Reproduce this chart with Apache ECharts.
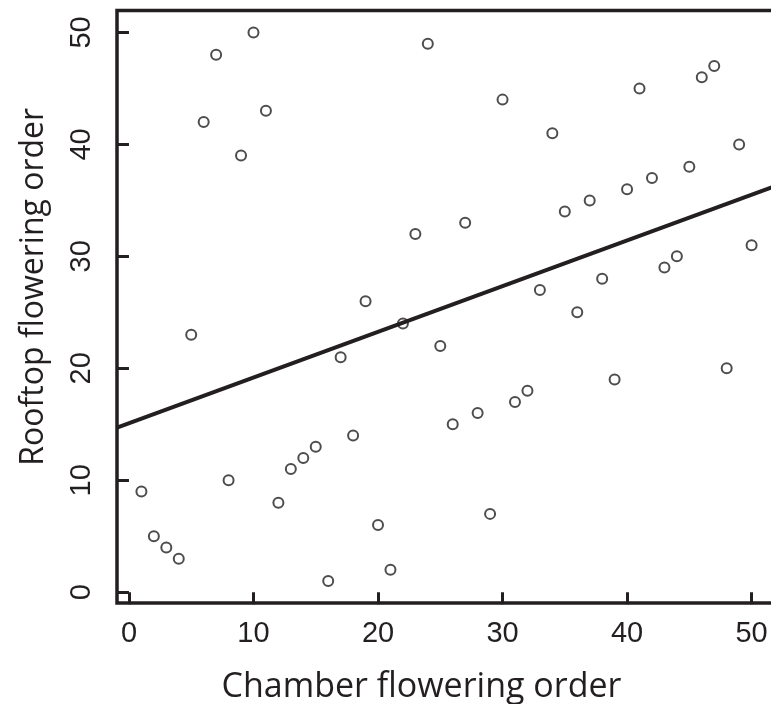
<!DOCTYPE html>
<html>
<head>
<meta charset="utf-8">
<style>
  html, body { margin: 0; padding: 0; background: #fff; }
  #chart { width: 771px; height: 704px; }
</style>
<script src="https://cdn.jsdelivr.net/npm/echarts@6/dist/echarts.min.js"></script>
</head>
<body>
<div id="chart"></div>
<script>
// chamber order (x) and rooftop order (y), one entry per plant
var chamberOrder = [
  1, 2, 3, 4, 5, 6, 7, 8, 9, 10,
  11, 12, 13, 14, 15, 16, 17, 18, 19, 20,
  21, 22, 23, 24, 25, 26, 27, 28, 29, 30,
  31, 32, 33, 34, 35, 36, 37, 38, 39, 40,
  41, 42, 43, 44, 45, 46, 47, 48, 49, 50
];
var rooftopOrder = [
  9, 5, 4, 3, 23, 42, 48, 10, 39, 50,
  43, 8, 11, 12, 13, 1, 21, 14, 26, 6,
  2, 24, 32, 49, 22, 15, 33, 16, 7, 44,
  17, 18, 27, 41, 34, 25, 35, 28, 19, 36,
  45, 37, 29, 30, 38, 46, 47, 20, 40, 31
];
var xTicks = [0, 10, 20, 30, 40, 50];
var yTicks = [0, 10, 20, 30, 40, 50];

(function () {
  var INK = '#231f20';
  var chart = echarts.init(document.getElementById('chart'));

  // R style axis range: data range padded by 4% each side
  var lo = 1 - 0.04 * 49;
  var hi = 50 + 0.04 * 49;

  var points = chamberOrder.map(function (x, i) {
    return [x, rooftopOrder[i]];
  });

  // least squares fit for the trend line
  var n = points.length;
  var mx = 0, my = 0;
  points.forEach(function (p) { mx += p[0]; my += p[1]; });
  mx /= n; my /= n;
  var sxy = 0, sxx = 0;
  points.forEach(function (p) {
    sxy += (p[0] - mx) * (p[1] - my);
    sxx += (p[0] - mx) * (p[0] - mx);
  });
  var slope = sxy / sxx;
  var icept = my - slope * mx;
  var fitLine = [[lo, icept + slope * lo], [hi, icept + slope * hi]];

  var option = {
    backgroundColor: '#fff',
    animation: false,
    grid: {
      left: 117,
      top: 10.5,
      right: -5,
      bottom: 101,
      show: true,
      borderColor: INK,
      borderWidth: 3.5,
      containLabel: false,
      outerBoundsMode: 'none'
    },
    xAxis: {
      type: 'value',
      min: lo,
      max: hi,
      name: 'Chamber flowering order',
      nameLocation: 'middle',
      nameGap: 67,
      nameTextStyle: {
        fontFamily: 'Open Sans',
        fontSize: 34,
        color: INK,
        padding: [0, 50, 0, 0]
      },
      axisLine: { show: false },
      axisTick: {
        show: true,
        length: 12,
        customValues: xTicks,
        lineStyle: { color: INK, width: 3 }
      },
      axisLabel: {
        customValues: xTicks,
        margin: 16,
        fontFamily: 'Liberation Sans',
        fontSize: 29,
        color: INK
      },
      splitLine: { show: false }
    },
    yAxis: {
      type: 'value',
      min: lo,
      max: hi,
      name: 'Rooftop flowering order',
      nameLocation: 'middle',
      nameGap: 67,
      nameTextStyle: {
        fontFamily: 'Open Sans',
        fontSize: 32,
        color: INK,
        padding: [0, 0, 0, 40]
      },
      axisLine: { show: false },
      axisTick: {
        show: true,
        length: 12,
        customValues: yTicks,
        lineStyle: { color: INK, width: 3 }
      },
      axisLabel: {
        customValues: yTicks,
        rotate: 90,
        margin: 21,
        fontFamily: 'Liberation Sans',
        fontSize: 29,
        color: INK
      },
      splitLine: { show: false }
    },
    series: [
      {
        type: 'line',
        data: fitLine,
        showSymbol: false,
        lineStyle: { color: INK, width: 4 },
        z: 2
      },
      {
        type: 'scatter',
        data: points,
        symbol: 'circle',
        symbolSize: 10,
        itemStyle: {
          color: 'rgba(0,0,0,0)',
          borderColor: INK,
          borderWidth: 2
        },
        z: 3
      }
    ]
  };

  chart.setOption(option);
})();
</script>
</body>
</html>
